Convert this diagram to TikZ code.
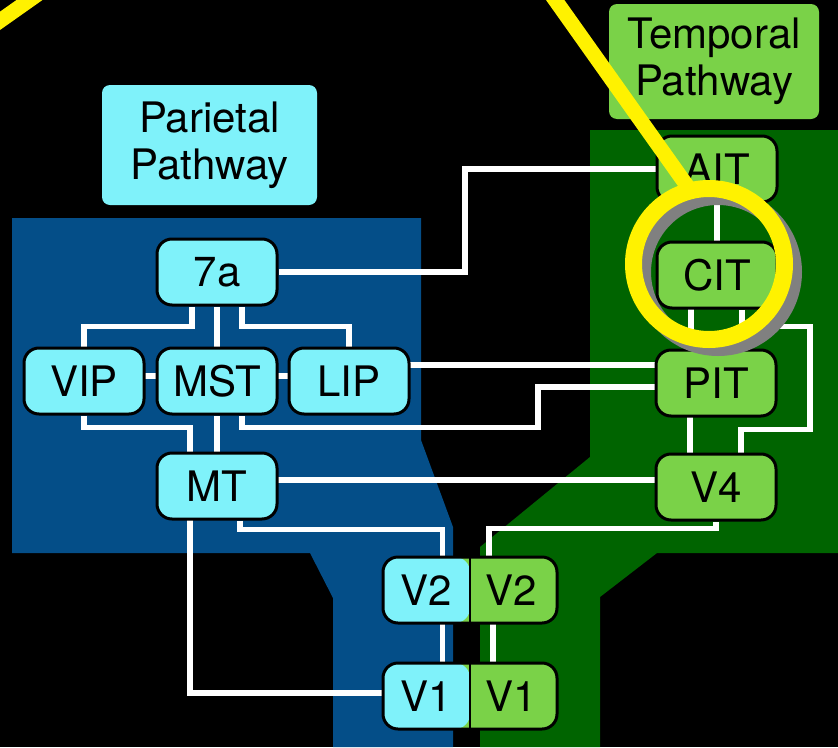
\documentclass[tikz,border=0pt]{standalone}
\usepackage{fontspec}
\setmainfont{TeX Gyre Heros}
\definecolor{pblue}{RGB}{4,78,136}
\definecolor{tdark}{RGB}{0,100,0}
\definecolor{pcyan}{RGB}{127,242,250}
\definecolor{tgreen}{RGB}{122,210,72}
\definecolor{ringgray}{RGB}{128,128,128}
\pgfdeclarelayer{back}
\pgfdeclarelayer{wires}
\pgfsetlayers{back,wires,main}

\begin{document}
\begin{tikzpicture}[x=1pt, y=-1pt, node font=\fontsize{42}{47}\selectfont,
		box/.style={rectangle, rounded corners=15pt, draw=black, line width=3pt, minimum width=120pt, minimum height=66pt, inner sep=0pt},
		pbox/.style={box, fill=pcyan},
		tbox/.style={box, fill=tgreen},
		half/.style={minimum width=87pt, minimum height=66pt, inner sep=0pt},
		plabel/.style={rectangle, rounded corners=8pt, align=center, inner sep=0pt},
		wire/.style={white, line width=5.5pt},
		pen/.style={yellow, line width=15pt}]
			\useasboundingbox (0,0) rectangle (838,747);
			
			\begin{pgfonlayer}{back}
				\fill[black] (0,0) rectangle (838,747);
				\fill[pblue] (12,218) -- (421,218) -- (421,440) -- (453,527) -- (453,747) -- (333,747) -- (333,598) -- (310,553) -- (12,553) -- cycle;
				\fill[tdark] (590,130) -- (838,130) -- (838,553) -- (657,553) -- (600,597) -- (600,747) -- (480,747) -- (480,547) -- (590,457) -- cycle;
			\end{pgfonlayer}
			
			\node[plabel, fill=pcyan, minimum width=215pt, minimum height=120pt] (parietal) at (209.5,145) {Parietal\\Pathway};
			\node[plabel, fill=tgreen, minimum width=210pt, minimum height=115pt] (temporal) at (714,61.5) {Temporal\\Pathway};
			
			\node[pbox] (7a) at (217,272) {7a};
			\node[pbox] (VIP) at (84,381) {VIP};
			\node[pbox] (MST) at (217,381) {MST};
			\node[pbox] (LIP) at (349,381) {LIP};
			\node[pbox] (MT) at (217,486) {MT};
			
			\node[tbox] (AIT) at (717,169) {AIT};
			\node[tbox] (CIT) at (717,275) {CIT};
			\node[tbox] (PIT) at (716,383) {PIT};
			\node[tbox] (V4) at (716,487) {V4};
			
			\node[tbox, minimum width=174pt, path picture={\fill[pcyan] (path picture bounding box.south west) rectangle (path picture bounding box.north);}] (V2) at (470,590) {};
			\node[tbox, minimum width=174pt, path picture={\fill[pcyan] (path picture bounding box.south west) rectangle (path picture bounding box.north);}] (V1) at (470,696) {};
			\draw[line width=1.5pt] (V2.north) -- (V2.south);
			\draw[line width=1.5pt] (V1.north) -- (V1.south);
			\node[half] (V2p) at ([xshift=-43.5pt]V2.center) {V2};
			\node[half] (V2t) at ([xshift=41pt]V2.center) {V2};
			\node[half] (V1p) at ([xshift=-43.5pt]V1.center) {V1};
			\node[half] (V1t) at ([xshift=41pt]V1.center) {V1};
			
			\begin{pgfonlayer}{wires}
				\draw[wire] (7a) -- ++(248,0) |- (AIT);
				\draw[wire] ([xshift=-25pt]7a.south) -- ++(0,20) -| (VIP);
				\draw[wire] (7a) -- (MST);
				\draw[wire] ([xshift=25pt]7a.south) -- ++(0,20) -| (LIP);
				\draw[wire] ([yshift=5pt]VIP.center) -- ([yshift=5pt]MST.center);
				\draw[wire] ([yshift=5pt]MST.center) -- ([yshift=5pt]LIP.center);
				\draw[wire] (VIP.south) -- ++(0,12) -| ([xshift=-27pt]MT.center);
				\draw[wire] (MST) -- (MT);
				\draw[wire] ([xshift=25pt]MST.south) -- ++(0,12) -- ++(296,0) |- ([yshift=-4pt]PIT.center);
				\draw[wire] ([yshift=16pt]LIP.center) -| (PIT);
				\draw[wire] ([yshift=6pt]MT.center) -| (V4);
				\draw[wire] ([xshift=23pt]MT.south) -- ++(0,9) -| ([xshift=16pt]V2p.center);
				\draw[wire] ([xshift=-27pt]MT.center) |- ([yshift=3pt]V1p.center);
				\draw[wire] ([xshift=16pt]V2p.center) -- ([xshift=16pt]V1p.center);
				\draw[wire] (V4.south) -- ++(0,7) -| ([xshift=-22pt]V2t.center);
				\draw[wire] ([xshift=-18pt]V2t.center) -- ([xshift=-18pt]V1t.center);
				\draw[wire] (AIT) -- (CIT);
				\draw[wire] ([xshift=-26pt]CIT.center) |- (PIT);
				\draw[wire] ([xshift=-26pt]PIT.center) |- (V4);
				\draw[wire] ([xshift=25pt]CIT.south) -- ++(0,17) -| ++(68,103) -| ([xshift=25pt]V4.center);
			\end{pgfonlayer}
			
			\coordinate (lens) at (709,264);
			\coordinate (callA) at (541,-20);
			\coordinate (callB) at (690,190);
			\coordinate (callC) at (-30,42);
			\coordinate (callD) at (38,-6);
			\draw[ringgray, line width=17pt] ([shift={(9,8)}]lens) circle [radius=75.5pt];
			\draw[pen] (callA) -- (callB);
			\draw[pen, line width=17pt] (lens) circle [radius=75.5pt];
			\draw[pen] (callC) -- (callD);
		\end{tikzpicture}
\end{document}
